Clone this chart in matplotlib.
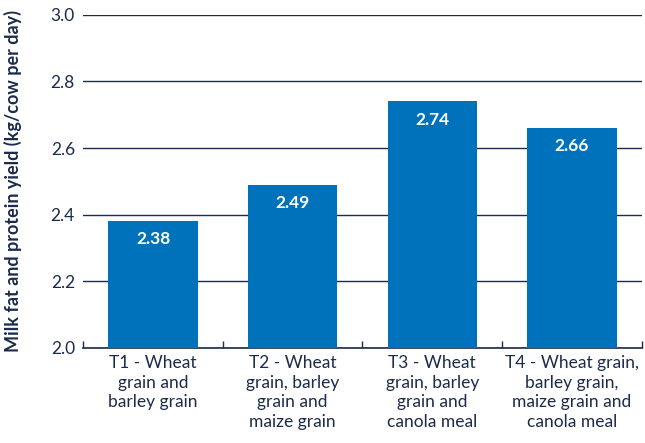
import matplotlib.pyplot as plt
import numpy as np

# Chart data
categories = [
    "T1 - Wheat\ngrain and\nbarley grain",
    "T2 - Wheat\ngrain, barley\ngrain and\nmaize grain",
    "T3 - Wheat\ngrain, barley\ngrain and\ncanola meal",
    "T4 - Wheat grain,\nbarley grain,\nmaize grain and\ncanola meal",
]
yields = [2.38, 2.49, 2.74, 2.66]
y_ticks = [2.0, 2.2, 2.4, 2.6, 2.8, 3.0]

bar_color = "#0072bb"
text_color = "#1c2b4b"

plt.rcParams['font.family'] = ['Lato', 'DejaVu Sans']

fig = plt.figure(figsize=(6.45, 4.43), dpi=100)
ax = fig.add_axes([0.129, 0.2145, 0.866, 0.752])

x = np.arange(len(categories))
ax.set_axisbelow(True)
ax.yaxis.grid(True, color=text_color, linewidth=1.0)
ax.bar(x, yields, width=0.64, color=bar_color, zorder=3)

# value labels inside the bars, near the top
for xi, v in zip(x, yields):
    ax.annotate(f"{v:.2f}", (xi, v), xytext=(0, -13), textcoords="offset points",
                ha="center", va="center", color="white", fontsize=12.5,
                fontweight="bold", zorder=4)

ax.set_ylim(2.0, 3.0)
ax.set_xlim(-0.5, len(categories) - 0.5)
ax.set_yticks(y_ticks)
ax.set_yticklabels([f"{t:.1f}" for t in y_ticks])
ax.set_xticks(x)
ax.set_xticklabels(categories, linespacing=1.28)
ax.set_xticks(np.arange(len(categories) + 1) - 0.5, minor=True)

for s in ["top", "right", "left"]:
    ax.spines[s].set_visible(False)
ax.spines["bottom"].set_color(text_color)
ax.spines["bottom"].set_linewidth(1.2)

ax.tick_params(axis="y", length=0, pad=6, labelsize=12.5, labelcolor=text_color)
ax.tick_params(axis="x", which="major", length=0, pad=5, labelsize=12.5,
               labelcolor=text_color)
ax.tick_params(axis="x", which="minor", direction="in", length=5,
               color=text_color, width=1)

ax.set_ylabel("Milk fat and protein yield (kg/cow per day)", fontsize=13,
              fontweight="bold", color=text_color)
ax.yaxis.set_label_coords(-0.109, 0.5)

fig.savefig("out.png", dpi=100)
